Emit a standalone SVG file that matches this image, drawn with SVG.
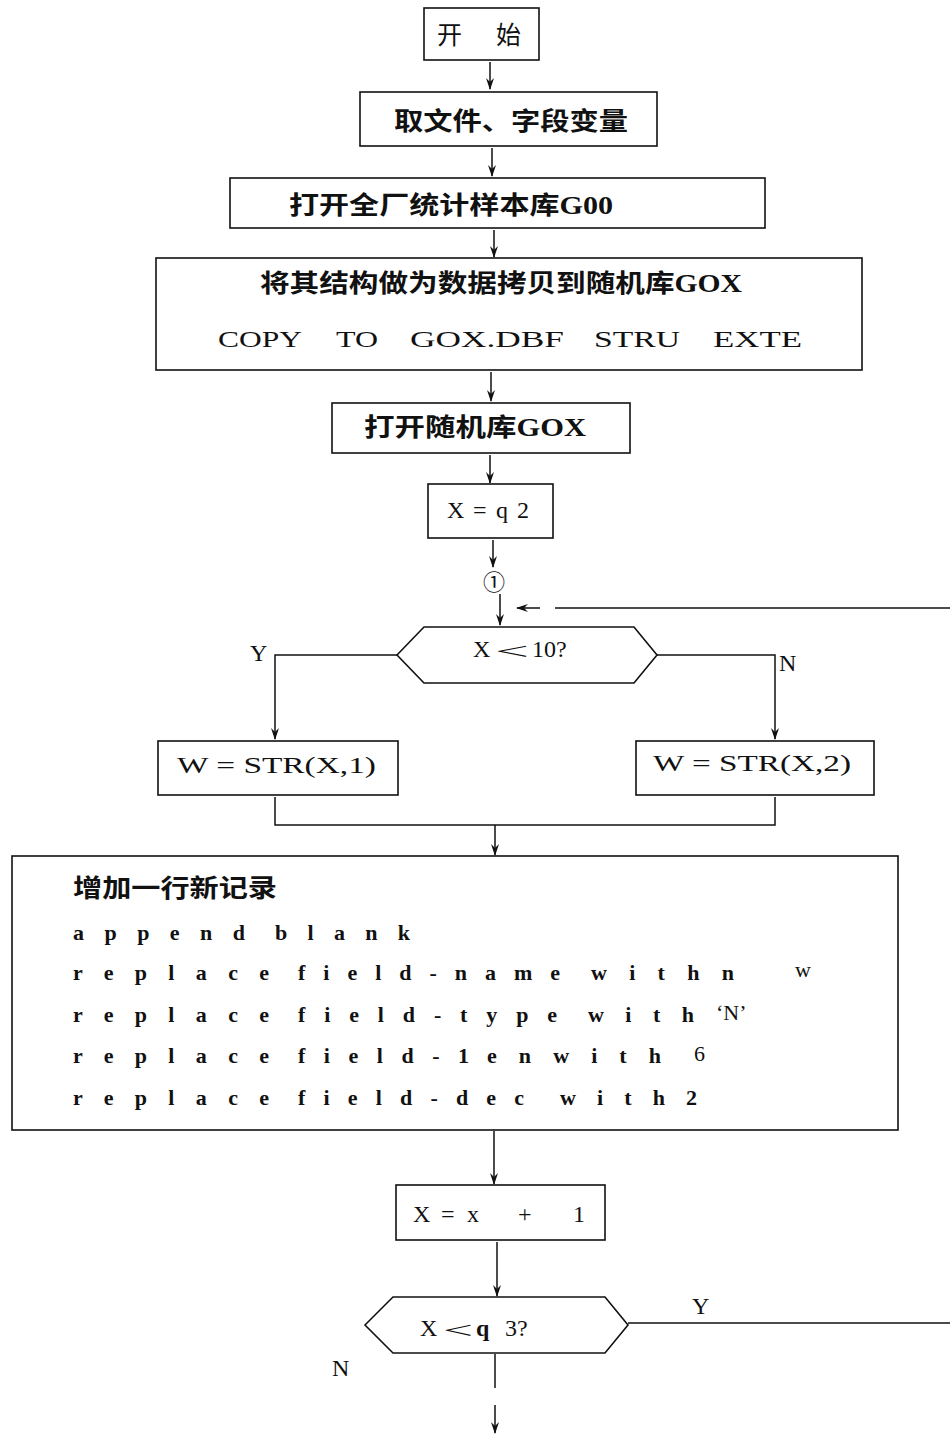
<svg xmlns="http://www.w3.org/2000/svg" width="950" height="1436" viewBox="0 0 950 1436">
<style>
.b{fill:none;stroke:#111;stroke-width:1.6}
.c{fill:none;stroke:#111;stroke-width:1.5}
.t{font-family:"Liberation Serif","Noto Sans CJK SC",serif;fill:#111;font-size:24px}
.z{font-family:"Liberation Serif","Noto Sans CJK SC",serif;fill:#111;font-size:25px;font-weight:bold}
.m{font-family:"Liberation Serif","Noto Sans CJK SC",serif;fill:#111;font-size:22px;font-weight:bold}
.n{font-weight:normal}
</style>
<defs>
<marker id="ah" markerWidth="12" markerHeight="8" refX="11" refY="4" orient="auto" markerUnits="userSpaceOnUse" viewBox="0 0 12 8">
<path d="M0,0 L12,4 L0,8 L4,4 Z" fill="#111"/>
</marker>
</defs>
<rect width="950" height="1436" fill="#fff"/>
<g id="connectors">
<path class="c" d="M490,62 V89" marker-end="url(#ah)"/>
<path class="c" d="M492,148 V176" marker-end="url(#ah)"/>
<path class="c" d="M494,230 V257" marker-end="url(#ah)"/>
<path class="c" d="M491,372 V401" marker-end="url(#ah)"/>
<path class="c" d="M490,455 V483" marker-end="url(#ah)"/>
<path class="c" d="M493,540 V567" marker-end="url(#ah)"/>
<path class="c" d="M500,594 V625" marker-end="url(#ah)"/>
<path class="c" d="M950,608 H555"/>
<path class="c" d="M540,608 H517" marker-end="url(#ah)"/>
<path class="c" d="M397,655 H275 V739" marker-end="url(#ah)"/>
<path class="c" d="M657,655 H775 V739" marker-end="url(#ah)"/>
<path class="c" d="M275,797 V825 H775 V797"/>
<path class="c" d="M495,825 V855" marker-end="url(#ah)"/>
<path class="c" d="M494,1131 V1184" marker-end="url(#ah)"/>
<path class="c" d="M497,1242 V1296" marker-end="url(#ah)"/>
<path class="c" d="M628,1323 H950"/>
<path class="c" d="M495,1354 V1388"/>
<path class="c" d="M495,1405 V1433" marker-end="url(#ah)"/>
<text class="t" x="250" y="661">Y</text>
<text class="t" x="779" y="671">N</text>
<text class="t" x="692" y="1314">Y</text>
<text class="t" x="332" y="1376">N</text>
</g>
<g id="start">
<rect class="b" x="424" y="8" width="115" height="52"/>
<text class="z n" x="437" y="44">开</text>
<text class="z n" x="496" y="44">始</text>
</g>
<g id="n2">
<rect class="b" x="360" y="92" width="297" height="54"/>
<text class="z" x="394" y="130" textLength="234" lengthAdjust="spacingAndGlyphs">取文件、字段变量</text>
</g>
<g id="n3">
<rect class="b" x="230" y="178" width="535" height="50"/>
<text class="z" x="289" y="214" textLength="324" lengthAdjust="spacingAndGlyphs">打开全厂统计样本库G00</text>
</g>
<g id="n4">
<rect class="b" x="156" y="258" width="706" height="112"/>
<text class="z" x="260" y="292" textLength="482" lengthAdjust="spacingAndGlyphs">将其结构做为数据拷贝到随机库GOX</text>
<text class="t" x="218" y="347" font-size="26" textLength="84" lengthAdjust="spacingAndGlyphs">COPY</text>
<text class="t" x="336" y="347" font-size="26" textLength="42" lengthAdjust="spacingAndGlyphs">TO</text>
<text class="t" x="410" y="347" font-size="26" textLength="154" lengthAdjust="spacingAndGlyphs">GOX.DBF</text>
<text class="t" x="594" y="347" font-size="26" textLength="86" lengthAdjust="spacingAndGlyphs">STRU</text>
<text class="t" x="713" y="347" font-size="26" textLength="89" lengthAdjust="spacingAndGlyphs">EXTE</text>
</g>
<g id="n5">
<rect class="b" x="332" y="403" width="298" height="50"/>
<text class="z" x="364" y="436" textLength="222" lengthAdjust="spacingAndGlyphs">打开随机库GOX</text>
</g>
<g id="n6">
<rect class="b" x="428" y="484" width="125" height="54"/>
<text class="t" x="447" y="518">X</text>
<text class="t" x="473" y="518">=</text>
<text class="t" x="496" y="518">q</text>
<text class="t" x="517" y="518">2</text>
</g>
<g id="conn1">
<text x="494" y="590" font-family="'Noto Sans CJK SC',sans-serif" font-size="22" text-anchor="middle" fill="#111">①</text>
</g>
<g id="d1">
<path class="b" d="M397,655 L424,627 H634 L657,655 L634,683 H424 Z"/>
<text class="t" x="473" y="657">X</text>
<text class="t" x="495" y="659" font-size="34" textLength="34" lengthAdjust="spacingAndGlyphs">&lt;</text>
<text class="t" x="532" y="657">10?</text>
</g>
<g id="w1">
<rect class="b" x="158" y="741" width="240" height="54"/>
<text class="t" x="177" y="773" font-size="25" textLength="199" lengthAdjust="spacingAndGlyphs">W = STR(X,1)</text>
</g>
<g id="w2">
<rect class="b" x="636" y="741" width="238" height="54"/>
<text class="t" x="653" y="771" font-size="25" textLength="198" lengthAdjust="spacingAndGlyphs">W = STR(X,2)</text>
</g>
<g id="n7">
<rect class="b" x="12" y="856" width="886" height="274"/>
<text class="z" x="73" y="897" font-size="23" textLength="204" lengthAdjust="spacingAndGlyphs">增加一行新记录</text>
<text class="m" x="73" y="940" textLength="172" lengthAdjust="spacing">append</text>
<text class="m" x="275" y="940" textLength="135" lengthAdjust="spacing">blank</text>
<text class="m" x="73" y="980" textLength="196" lengthAdjust="spacing">replace</text>
<text class="m" x="298" y="980" textLength="262" lengthAdjust="spacing">field-name</text>
<text class="m" x="591" y="980" textLength="143" lengthAdjust="spacing">withn</text>
<text class="m n" x="795" y="977" font-size="19">w</text>
<text class="m" x="73" y="1022" textLength="196" lengthAdjust="spacing">replace</text>
<text class="m" x="298" y="1022" textLength="259" lengthAdjust="spacing">field-type</text>
<text class="m" x="588" y="1022" textLength="106" lengthAdjust="spacing">with</text>
<text class="m n" x="716" y="1020">‘N’</text>
<text class="m" x="73" y="1063" textLength="196" lengthAdjust="spacing">replace</text>
<text class="m" x="298" y="1063" textLength="171" lengthAdjust="spacing">field-1</text>
<text class="m" x="487" y="1063" textLength="174" lengthAdjust="spacing">enwith</text>
<text class="m n" x="694" y="1061">6</text>
<text class="m" x="73" y="1105" textLength="196" lengthAdjust="spacing">replace</text>
<text class="m" x="298" y="1105" textLength="226" lengthAdjust="spacing">field-dec</text>
<text class="m" x="560" y="1105" textLength="137" lengthAdjust="spacing">with2</text>
</g>
<g id="n8">
<rect class="b" x="396" y="1185" width="209" height="55"/>
<text class="t" x="413" y="1222">X</text>
<text class="t" x="441" y="1222">=</text>
<text class="t" x="467" y="1222">x</text>
<text class="t" x="518" y="1222">+</text>
<text class="t" x="573" y="1222">1</text>
</g>
<g id="d2">
<path class="b" d="M365,1325 L393,1297 H605 L628,1325 L605,1353 H393 Z"/>
<text class="t" x="420" y="1336">X</text>
<text class="t" x="443" y="1338" font-size="32" textLength="30" lengthAdjust="spacingAndGlyphs">&lt;</text>
<text class="t" x="476" y="1336" font-weight="bold">q</text>
<text class="t" x="505" y="1336">3?</text>
</g>
</svg>
